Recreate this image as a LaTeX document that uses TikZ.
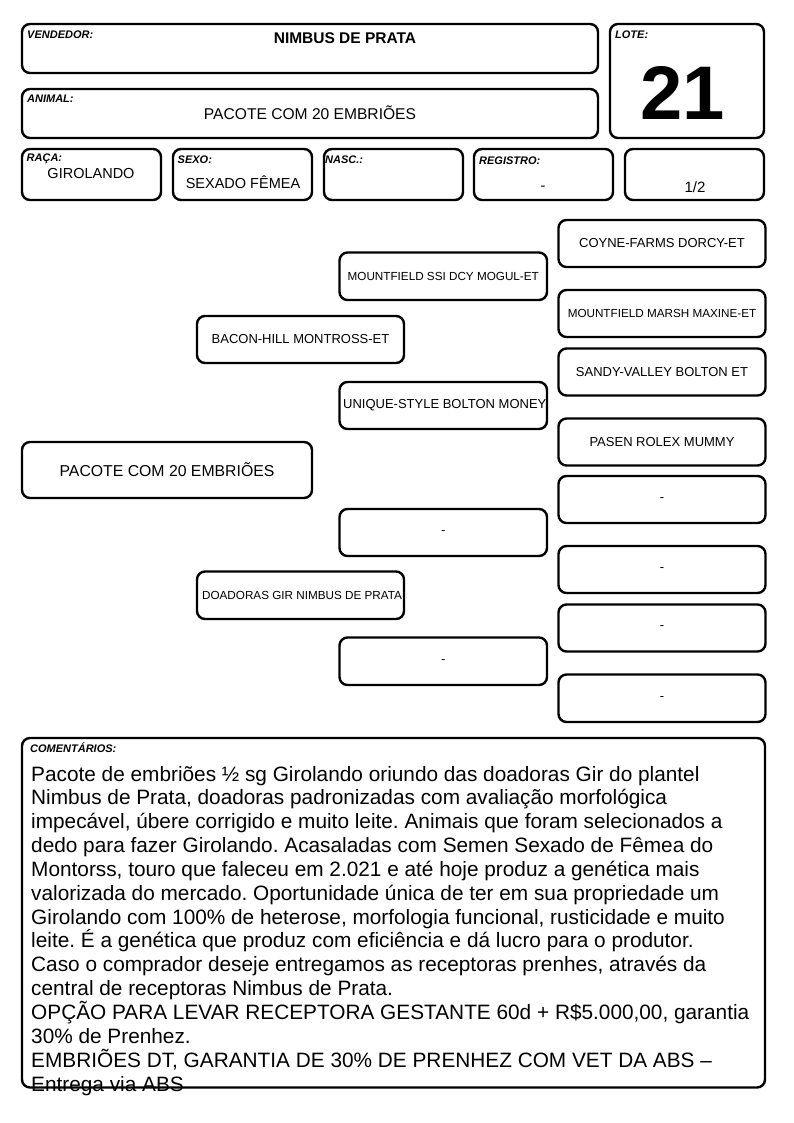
\documentclass[tikz,border=0pt]{standalone}
\usepackage{fontspec}
\setmainfont{Liberation Sans}
\frenchspacing
\newcommand\mybox[7][]{\node[box,#1,minimum width={#5-#3},minimum height={#6-#4}] (#2) at ({(#3+#5)/2},{(#4+#6)/2}) {#7};}
\begin{document}
\begin{tikzpicture}[x=1pt,y=-1pt,
 box/.style={draw=black, line width=2.4pt, rounded corners=8pt, inner sep=0pt, fill=white, font=\fontsize{13}{15}\selectfont},
 lab/.style={anchor=base west, inner sep=0pt, font=\fontsize{11}{13}\selectfont\bfseries\itshape},
 val/.style={anchor=base, inner sep=0pt, font=\fontsize{14.5}{17}\selectfont},
 pedsm/.style={font=\fontsize{11.7}{14}\selectfont}]
\useasboundingbox (0,0) rectangle (794,1123);
\fill[white] (0,0) rectangle (794,1123);
% header boxes
\mybox{vend}{22}{24}{598}{73}{}
\mybox{anim}{22}{89}{598}{138}{}
\mybox{lote}{610}{24}{764}{138}{}
\mybox{raca}{22}{149}{161}{200}{}
\mybox{sexo}{173}{149}{312}{200}{}
\mybox{nasc}{324}{149}{463}{200}{}
\mybox{regi}{474}{149}{613}{200}{}
\mybox{frac}{625}{149}{764}{200}{}
% header labels
\node[lab] (lvend) at (27,39) {VENDEDOR:};
\node[val, font=\fontsize{15.5}{18}\selectfont\bfseries] (tvend) at (345,43.3) {NIMBUS DE PRATA};
\node[lab] (lanim) at (27,102.3) {ANIMAL:};
\node[val, font=\fontsize{15.6}{18}\selectfont] (tanim) at (310,119.3) {PACOTE COM 20 EMBRIÕES};
\node[lab] (llote) at (615,38.3) {LOTE:};
\node[val, font=\fontsize{76}{80}\selectfont\bfseries] (tlote) at (682.5,119.3) {21};
\node[lab] (lraca) at (26.5,162) {RAÇA:};
\node[val] (traca) at (91,178.3) {GIROLANDO};
\node[lab] (lsexo) at (177.5,163.7) {SEXO:};
\node[val] (tsexo) at (243,189) {SEXADO FÊMEA};
\node[lab] (lnasc) at (325,163.7) {NASC.:};
\node[lab] (lregi) at (479,164.3) {REGISTRO:};
\node[val] (tregi) at (543,191) {-};
\node[val, font=\fontsize{15}{18}\selectfont] (tfrac) at (695,192.3) {1/2};
% pedigree
\mybox{p1}{22}{442}{312}{498}{\fontsize{15.8}{18}\selectfont PACOTE COM 20 EMBRIÕES}
\mybox{bacon}{197}{316}{404}{363}{BACON-HILL MONTROSS-ET}
\mybox[pedsm]{doad}{197}{571.5}{404}{619}{\hspace{3pt}DOADORAS GIR NIMBUS DE PRATA}
\mybox[pedsm]{mog}{339.5}{252.5}{547}{300}{MOUNTFIELD SSI DCY MOGUL-ET}
\mybox{uniq}{339.5}{382}{547}{429}{\hspace{3pt}UNIQUE-STYLE BOLTON MONEY}
\mybox{d3a}{339.5}{509}{547}{556}{-}
\mybox{d3b}{339.5}{637.5}{547}{685}{-}
\mybox{coyne}{558.5}{220}{765.5}{267}{COYNE-FARMS DORCY-ET}
\mybox[pedsm]{maxine}{558.5}{290}{765.5}{337}{MOUNTFIELD MARSH MAXINE-ET}
\mybox{sandy}{558.5}{348.5}{765.5}{395.5}{SANDY-VALLEY BOLTON ET}
\mybox{pasen}{558.5}{418.5}{765.5}{465.5}{PASEN ROLEX MUMMY}
\mybox{d4a}{558.5}{476}{765.5}{523}{-}
\mybox{d4b}{558.5}{546}{765.5}{593}{-}
\mybox{d4c}{558.5}{604.5}{765.5}{651.5}{-}
\mybox{d4d}{558.5}{674.5}{765.5}{722}{-}
% comments
\mybox{cmtbox}{22}{738}{765}{1087.5}{}
\node[lab] (lcmt) at (30,752.7) {COMENTÁRIOS:};
\node[anchor=base west, inner sep=0pt] (cmt) at (31,781) {\parbox[t]{740pt}{\fontsize{20.8}{23.85}\selectfont\raggedright
Pacote de embriões ½ sg Girolando oriundo das doadoras Gir do plantel\\
Nimbus de Prata, doadoras padronizadas com avaliação morfológica\\
impecável, úbere corrigido e muito leite. Animais que foram selecionados a\\
dedo para fazer Girolando. Acasaladas com Semen Sexado de Fêmea do\\
Montorss, touro que faleceu em 2.021 e até hoje produz a genética mais\\
valorizada do mercado. Oportunidade única de ter em sua propriedade um\\
Girolando com 100\% de heterose, morfologia funcional, rusticidade e muito\\
leite. É a genética que produz com eficiência e dá lucro para o produtor.\\
Caso o comprador deseje entregamos as receptoras prenhes, através da\\
central de receptoras Nimbus de Prata.\\
OPÇÃO PARA LEVAR RECEPTORA GESTANTE 60d + R\$5.000,00, garantia\\
30\% de Prenhez.\\
EMBRIÕES DT, GARANTIA DE 30\% DE PRENHEZ COM VET DA ABS \textendash\\
Entrega via ABS}};
\end{tikzpicture}
\end{document}
